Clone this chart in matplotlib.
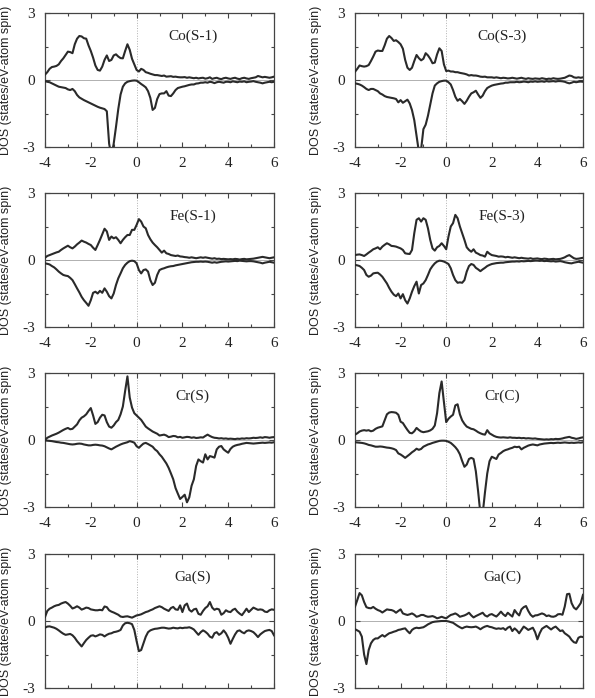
import numpy as np
import matplotlib
matplotlib.use("Agg")
import matplotlib.pyplot as plt
from matplotlib.ticker import MultipleLocator, FixedLocator

plt.rcParams["axes.unicode_minus"] = False

# energy grid (eV), 0.1 eV step from -4 to 6
energy = np.round(np.linspace(-4, 6, 101), 1)

# spin-up / spin-down DOS, one value per grid point
co_s1_up = [0.24, 0.35, 0.5, 0.58, 0.6, 0.63, 0.7, 0.85, 0.97, 1.12,
            1.27, 1.25, 1.2, 1.6, 1.85, 1.97, 1.95, 1.87, 1.85, 1.55,
            1.3, 1.0, 0.65, 0.45, 0.42, 0.6, 0.9, 1.1, 0.85, 0.9,
            1.1, 1.15, 1.05, 0.98, 0.97, 1.3, 1.6, 1.35, 0.95, 0.7,
            0.45, 0.38, 0.5, 0.45, 0.35, 0.32, 0.28, 0.25, 0.22, 0.22,
            0.2, 0.18, 0.2, 0.15, 0.16, 0.17, 0.14, 0.15, 0.13, 0.12,
            0.12, 0.13, 0.1, 0.12, 0.1, 0.08, 0.1, 0.07, 0.09, 0.1,
            0.06, 0.08, 0.12, 0.05, 0.08, 0.1, 0.06, 0.04, 0.08, 0.1,
            0.07, 0.05, 0.08, 0.1, 0.06, 0.04, 0.08, 0.1, 0.07, 0.05,
            0.08, 0.1, 0.12, 0.18, 0.15, 0.12, 0.14, 0.12, 0.1, 0.12, 0.15]
co_s1_dn = [-0.05, -0.08, -0.1, -0.15, -0.2, -0.25, -0.3, -0.32, -0.34, -0.36,
            -0.42, -0.45, -0.4, -0.5, -0.67, -0.78, -0.84, -0.9, -0.95, -1.0,
            -1.05, -1.1, -1.15, -1.2, -1.24, -1.27, -1.3, -1.4, -2.85, -3.4,
            -2.85, -2.1, -1.3, -0.65, -0.3, -0.15, -0.08, -0.05, -0.03, -0.02,
            -0.03, -0.1, -0.18, -0.25, -0.33, -0.5, -0.8, -1.34, -1.25, -0.85,
            -0.63, -0.6, -0.6, -0.5, -0.7, -0.72, -0.6, -0.45, -0.36, -0.33,
            -0.3, -0.28, -0.25, -0.22, -0.2, -0.2, -0.16, -0.15, -0.12, -0.12,
            -0.1, -0.12, -0.08, -0.1, -0.14, -0.1, -0.08, -0.1, -0.12, -0.08,
            -0.08, -0.1, -0.06, -0.08, -0.1, -0.07, -0.08, -0.06, -0.1, -0.08,
            -0.07, -0.05, -0.08, -0.1, -0.12, -0.15, -0.12, -0.1, -0.08, -0.1, -0.08]

co_s3_up = [0.37, 0.5, 0.65, 0.62, 0.6, 0.62, 0.67, 0.85, 1.05, 1.27,
            1.32, 1.3, 1.3, 1.55, 1.85, 1.97, 1.88, 1.75, 1.78, 1.7,
            1.6, 1.4, 0.9, 0.55, 0.45, 0.55, 0.85, 1.12, 0.98, 0.88,
            0.95, 1.2, 1.1, 0.95, 0.75, 0.78, 1.15, 1.42, 1.3, 0.7,
            0.4, 0.42, 0.38, 0.38, 0.35, 0.35, 0.32, 0.3, 0.28, 0.25,
            0.2, 0.22, 0.2, 0.2, 0.18, 0.15, 0.14, 0.15, 0.12, 0.12,
            0.12, 0.1, 0.12, 0.1, 0.08, 0.1, 0.09, 0.07, 0.08, 0.1,
            0.08, 0.06, 0.08, 0.1, 0.07, 0.05, 0.08, 0.06, 0.05, 0.07,
            0.06, 0.05, 0.08, 0.06, 0.04, 0.06, 0.05, 0.08, 0.06, 0.05,
            0.06, 0.08, 0.1, 0.15, 0.2, 0.18, 0.12, 0.1, 0.12, 0.1, 0.12]
co_s3_dn = [-0.15, -0.17, -0.2, -0.25, -0.32, -0.4, -0.45, -0.4, -0.4, -0.45,
            -0.5, -0.6, -0.65, -0.72, -0.76, -0.78, -0.8, -0.82, -0.85, -1.0,
            -0.9, -1.02, -0.95, -0.88, -1.05, -1.35, -1.8, -2.5, -3.2, -3.1,
            -2.2, -2.0, -1.6, -1.1, -0.6, -0.25, -0.15, -0.08, -0.05, -0.03,
            -0.03, -0.1, -0.2, -0.45, -0.75, -0.93, -0.85, -0.95, -1.07, -0.93,
            -0.75, -0.6, -0.55, -0.48, -0.65, -0.8, -0.7, -0.5, -0.36, -0.3,
            -0.25, -0.22, -0.2, -0.18, -0.16, -0.15, -0.12, -0.12, -0.1, -0.1,
            -0.1, -0.08, -0.1, -0.09, -0.07, -0.08, -0.1, -0.07, -0.08, -0.06,
            -0.08, -0.07, -0.06, -0.08, -0.05, -0.07, -0.06, -0.05, -0.07, -0.05,
            -0.05, -0.06, -0.08, -0.12, -0.15, -0.12, -0.08, -0.1, -0.08, -0.07, -0.08]

fe_s1_up = [0.1, 0.18, 0.22, 0.26, 0.3, 0.34, 0.37, 0.45, 0.52, 0.58,
            0.64, 0.57, 0.52, 0.6, 0.7, 0.78, 0.87, 0.82, 0.78, 0.72,
            0.67, 0.55, 0.45, 0.67, 0.9, 1.15, 1.4, 1.28, 0.9, 1.05,
            0.97, 1.02, 0.9, 0.75, 0.9, 1.02, 1.12, 1.12, 1.35, 1.35,
            1.57, 1.83, 1.72, 1.5, 1.42, 1.12, 0.93, 0.78, 0.67, 0.57,
            0.45, 0.33, 0.42, 0.3, 0.27, 0.22, 0.2, 0.18, 0.2, 0.16,
            0.15, 0.13, 0.12, 0.1, 0.12, 0.1, 0.08, 0.1, 0.12, 0.1,
            0.12, 0.1, 0.08, 0.06, 0.08, 0.05, 0.06, 0.04, 0.05, 0.04,
            0.03, 0.04, 0.03, 0.05, 0.04, 0.02, 0.04, 0.05, 0.03, 0.04,
            0.05, 0.06, 0.08, 0.1, 0.12, 0.14, 0.12, 0.1, 0.08, 0.1, 0.12]
fe_s1_dn = [-0.15, -0.17, -0.2, -0.27, -0.33, -0.42, -0.52, -0.6, -0.67, -0.7,
            -0.72, -0.8, -0.9, -1.08, -1.27, -1.45, -1.65, -1.8, -1.92, -2.05,
            -1.8, -1.47, -1.42, -1.5, -1.38, -1.47, -1.27, -1.42, -1.62, -1.72,
            -1.5, -1.12, -0.82, -0.6, -0.37, -0.22, -0.12, -0.05, -0.03, -0.05,
            -0.15, -0.45, -0.6, -0.45, -0.42, -0.52, -0.9, -1.12, -1.02, -0.67,
            -0.45, -0.4, -0.37, -0.33, -0.3, -0.28, -0.27, -0.24, -0.22, -0.2,
            -0.18, -0.16, -0.14, -0.12, -0.1, -0.09, -0.08, -0.08, -0.07, -0.08,
            -0.07, -0.08, -0.1, -0.12, -0.1, -0.12, -0.1, -0.08, -0.07, -0.06,
            -0.07, -0.06, -0.05, -0.04, -0.05, -0.03, -0.04, -0.05, -0.06, -0.05,
            -0.05, -0.06, -0.08, -0.1, -0.12, -0.15, -0.12, -0.1, -0.08, -0.1, -0.12]

fe_s3_up = [0.22, 0.24, 0.25, 0.22, 0.18, 0.25, 0.33, 0.4, 0.48, 0.52,
            0.57, 0.48, 0.6, 0.68, 0.75, 0.7, 0.63, 0.62, 0.6, 0.56,
            0.52, 0.45, 0.3, 0.28, 0.27, 0.45, 1.2, 1.8, 1.87, 1.72,
            1.87, 1.8, 1.42, 0.9, 0.52, 0.42, 0.57, 0.63, 0.75, 0.63,
            0.48, 1.05, 1.5, 1.65, 2.02, 1.87, 1.5, 1.2, 0.9, 0.57,
            0.45, 0.37, 0.48, 0.33, 0.28, 0.22, 0.2, 0.15, 0.37, 0.28,
            0.22, 0.2, 0.18, 0.15, 0.16, 0.15, 0.12, 0.14, 0.12, 0.1,
            0.12, 0.1, 0.08, 0.1, 0.08, 0.07, 0.06, 0.08, 0.05, 0.06,
            0.07, 0.05, 0.04, 0.06, 0.05, 0.03, 0.04, 0.05, 0.03, 0.04,
            0.05, 0.08, 0.12, 0.18, 0.22, 0.15, 0.08, 0.05, 0.06, 0.08, 0.1]
fe_s3_dn = [-0.22, -0.24, -0.27, -0.35, -0.45, -0.67, -0.75, -0.7, -0.6, -0.58,
            -0.57, -0.65, -0.75, -0.9, -1.05, -1.25, -1.42, -1.55, -1.62, -1.5,
            -1.72, -1.53, -1.8, -1.95, -1.72, -1.42, -1.17, -0.97, -1.5, -1.12,
            -1.05, -0.9, -0.67, -0.42, -0.27, -0.15, -0.07, -0.03, -0.04, -0.07,
            -0.12, -0.18, -0.37, -0.67, -0.9, -1.02, -1.0, -1.02, -0.9, -0.52,
            -0.27, -0.18, -0.22, -0.35, -0.42, -0.5, -0.42, -0.35, -0.27, -0.22,
            -0.18, -0.16, -0.14, -0.13, -0.12, -0.12, -0.1, -0.09, -0.08, -0.07,
            -0.07, -0.06, -0.07, -0.05, -0.06, -0.05, -0.04, -0.05, -0.04, -0.03,
            -0.03, -0.04, -0.03, -0.05, -0.04, -0.05, -0.06, -0.05, -0.07, -0.06,
            -0.05, -0.07, -0.1, -0.12, -0.14, -0.15, -0.12, -0.1, -0.08, -0.1, -0.12]

cr_s_up = [0.0, 0.1, 0.15, 0.2, 0.24, 0.28, 0.33, 0.39, 0.45, 0.5,
           0.54, 0.48, 0.5, 0.6, 0.7, 0.88, 1.0, 1.06, 1.15, 1.3,
           1.43, 1.1, 0.72, 0.8, 1.0, 1.13, 1.1, 0.8, 0.6, 0.55,
           0.65, 0.8, 0.9, 1.15, 1.5, 2.2, 2.85, 1.9, 1.45, 1.2,
           1.1, 1.0, 0.9, 0.75, 0.6, 0.52, 0.45, 0.38, 0.33, 0.28,
           0.2, 0.22, 0.24, 0.2, 0.13, 0.15, 0.18, 0.17, 0.12, 0.14,
           0.1, 0.12, 0.14, 0.13, 0.1, 0.12, 0.09, 0.1, 0.12, 0.11,
           0.18, 0.24, 0.18, 0.13, 0.1, 0.09, 0.07, 0.08, 0.06, 0.07,
           0.05, 0.06, 0.05, 0.04, 0.06, 0.05, 0.07, 0.06, 0.08, 0.07,
           0.08, 0.1, 0.09, 0.1, 0.12, 0.1, 0.13, 0.12, 0.1, 0.12, 0.13]
cr_s_dn = [-0.02, -0.03, -0.04, -0.05, -0.07, -0.09, -0.1, -0.12, -0.13, -0.15,
           -0.17, -0.19, -0.2, -0.19, -0.17, -0.16, -0.17, -0.2, -0.22, -0.24,
           -0.24, -0.22, -0.21, -0.22, -0.24, -0.25, -0.28, -0.33, -0.38, -0.42,
           -0.36, -0.3, -0.25, -0.2, -0.16, -0.13, -0.1, -0.05, -0.08, -0.12,
           -0.28, -0.35, -0.25, -0.16, -0.13, -0.18, -0.24, -0.3, -0.42, -0.5,
           -0.64, -0.75, -0.9, -1.05, -1.25, -1.5, -1.76, -2.15, -2.4, -2.64,
           -2.55, -2.45, -2.79, -2.57, -2.05, -1.76, -1.16, -0.87, -0.95, -1.01,
           -0.64, -0.87, -0.72, -0.75, -0.79, -0.42, -0.3, -0.27, -0.42, -0.5,
           -0.57, -0.4, -0.3, -0.25, -0.22, -0.2, -0.17, -0.15, -0.13, -0.14,
           -0.15, -0.16, -0.15, -0.14, -0.13, -0.12, -0.13, -0.12, -0.11, -0.12, -0.1]

cr_c_up = [0.24, 0.3, 0.38, 0.42, 0.44, 0.42, 0.44, 0.39, 0.42, 0.5,
           0.55, 0.58, 0.61, 0.88, 1.15, 1.23, 1.25, 1.24, 1.22, 1.13,
           0.82, 0.76, 0.6, 0.45, 0.32, 0.3, 0.39, 0.54, 0.45, 0.38,
           0.35, 0.37, 0.39, 0.43, 0.5, 0.65, 1.2, 2.1, 2.62, 1.7,
           0.8, 0.95, 1.05, 1.13, 1.55, 1.6, 1.15, 0.88, 0.72, 0.6,
           0.55, 0.5, 0.48, 0.42, 0.35, 0.3, 0.26, 0.24, 0.44, 0.3,
           0.24, 0.18, 0.14, 0.12, 0.11, 0.12, 0.11, 0.1, 0.12, 0.1,
           0.1, 0.09, 0.1, 0.08, 0.09, 0.07, 0.08, 0.07, 0.06, 0.07,
           0.05, 0.04, 0.03, 0.02, 0.03, 0.02, 0.04, 0.03, 0.05, 0.04,
           0.05, 0.07, 0.1, 0.12, 0.14, 0.1, 0.08, 0.05, 0.07, 0.1, 0.12]
cr_c_dn = [-0.1, -0.11, -0.12, -0.13, -0.15, -0.18, -0.22, -0.24, -0.27, -0.3,
           -0.3, -0.29, -0.3, -0.32, -0.34, -0.35, -0.37, -0.4, -0.45, -0.6,
           -0.65, -0.72, -0.8, -0.72, -0.64, -0.55, -0.48, -0.39, -0.44, -0.4,
           -0.3, -0.25, -0.2, -0.17, -0.13, -0.1, -0.07, -0.04, -0.03, -0.03,
           -0.04, -0.08, -0.13, -0.22, -0.32, -0.45, -0.64, -0.94, -1.2, -1.1,
           -0.85, -0.8, -0.85, -1.4, -2.3, -3.3, -3.3, -2.35, -1.5, -0.95,
           -0.75, -0.8, -0.85, -0.65, -0.58, -0.5, -0.45, -0.42, -0.38, -0.35,
           -0.3, -0.32, -0.3, -0.42, -0.35, -0.3, -0.25, -0.22, -0.2, -0.22,
           -0.24, -0.2, -0.18, -0.16, -0.15, -0.14, -0.13, -0.14, -0.13, -0.12,
           -0.13, -0.12, -0.11, -0.12, -0.13, -0.12, -0.13, -0.12, -0.11, -0.12, -0.1]

ga_s_up = [0.18, 0.45, 0.55, 0.6, 0.66, 0.7, 0.72, 0.78, 0.82, 0.85,
           0.78, 0.68, 0.56, 0.6, 0.66, 0.6, 0.51, 0.55, 0.6, 0.58,
           0.52, 0.5, 0.48, 0.48, 0.5, 0.48, 0.65, 0.62, 0.48, 0.42,
           0.38, 0.33, 0.28, 0.2, 0.18, 0.2, 0.21, 0.18, 0.15, 0.2,
           0.25, 0.27, 0.3, 0.35, 0.4, 0.43, 0.48, 0.52, 0.58, 0.62,
           0.66, 0.62, 0.55, 0.5, 0.45, 0.58, 0.63, 0.52, 0.5, 0.7,
           0.4, 0.7, 0.78, 0.5, 0.42, 0.52, 0.55, 0.32, 0.28, 0.45,
           0.58, 0.66, 0.85, 0.6, 0.5, 0.55, 0.52, 0.28, 0.35, 0.48,
           0.42, 0.4, 0.5, 0.55, 0.42, 0.33, 0.26, 0.4, 0.55, 0.4,
           0.5, 0.6, 0.55, 0.5, 0.52, 0.5, 0.42, 0.4, 0.48, 0.52, 0.5]
ga_s_dn = [-0.3, -0.25, -0.24, -0.27, -0.3, -0.35, -0.42, -0.5, -0.57, -0.62,
           -0.6, -0.58, -0.64, -0.75, -0.9, -1.02, -1.14, -0.99, -0.85, -0.75,
           -0.66, -0.64, -0.69, -0.65, -0.6, -0.62, -0.69, -0.62, -0.57, -0.55,
           -0.5, -0.48, -0.45, -0.4, -0.2, -0.1, -0.08, -0.1, -0.14, -0.4,
           -0.9, -1.35, -1.3, -1.0, -0.7, -0.5, -0.42, -0.38, -0.35, -0.34,
           -0.32, -0.3, -0.3, -0.32, -0.34, -0.33, -0.3, -0.32, -0.33, -0.3,
           -0.32, -0.3, -0.3, -0.28, -0.32, -0.38, -0.5, -0.62, -0.5, -0.42,
           -0.48, -0.57, -0.7, -0.75, -0.55, -0.5, -0.62, -0.55, -0.42, -0.55,
           -0.75, -1.02, -0.8, -0.6, -0.45, -0.42, -0.5, -0.55, -0.45, -0.42,
           -0.45, -0.5, -0.6, -0.72, -0.6, -0.52, -0.45, -0.42, -0.4, -0.45, -0.64]

ga_c_up = [0.64, 0.94, 1.25, 1.15, 0.85, 0.62, 0.58, 0.57, 0.63, 0.55,
           0.49, 0.45, 0.38, 0.45, 0.52, 0.5, 0.49, 0.45, 0.37, 0.45,
           0.52, 0.34, 0.3, 0.27, 0.3, 0.34, 0.28, 0.19, 0.22, 0.27,
           0.27, 0.22, 0.19, 0.2, 0.22, 0.18, 0.12, 0.15, 0.19, 0.15,
           0.12, 0.2, 0.27, 0.3, 0.34, 0.28, 0.19, 0.22, 0.25, 0.3,
           0.37, 0.25, 0.16, 0.22, 0.27, 0.32, 0.37, 0.25, 0.2, 0.28,
           0.31, 0.25, 0.2, 0.3, 0.42, 0.3, 0.22, 0.37, 0.28, 0.2,
           0.49, 0.35, 0.25, 0.52, 0.62, 0.67, 0.45, 0.28, 0.19, 0.25,
           0.26, 0.3, 0.34, 0.3, 0.22, 0.25, 0.2, 0.19, 0.22, 0.3,
           0.31, 0.28, 0.65, 1.2, 1.22, 0.8, 0.6, 0.52, 0.65, 0.8, 1.17]
ga_c_dn = [-0.37, -0.42, -0.48, -0.7, -1.5, -1.93, -1.3, -1.0, -0.85, -0.78,
           -0.78, -0.7, -0.63, -0.7, -0.62, -0.55, -0.52, -0.48, -0.45, -0.4,
           -0.38, -0.35, -0.33, -0.45, -0.55, -0.4, -0.33, -0.3, -0.32, -0.3,
           -0.28, -0.22, -0.15, -0.1, -0.05, -0.03, -0.02, -0.01, 0.0, 0.0,
           0.0, -0.02, -0.05, -0.08, -0.15, -0.22, -0.28, -0.33, -0.28, -0.25,
           -0.27, -0.28, -0.27, -0.25, -0.3, -0.37, -0.3, -0.25, -0.22, -0.26,
           -0.28, -0.32, -0.35, -0.33, -0.35, -0.32, -0.4, -0.3, -0.25, -0.45,
           -0.33, -0.42, -0.55, -0.4, -0.25, -0.32, -0.4, -0.35, -0.3, -0.5,
           -0.82, -0.55, -0.35, -0.28, -0.22, -0.3, -0.38, -0.3, -0.25, -0.35,
           -0.45, -0.42, -0.55, -0.62, -0.7, -0.85, -0.95, -0.98, -0.75, -0.7, -0.72]

labels = ["Co(S-1)", "Co(S-3)", "Fe(S-1)", "Fe(S-3)",
          "Cr(S)", "Cr(C)", "Ga(S)", "Ga(C)"]
ups = [co_s1_up, co_s3_up, fe_s1_up, fe_s3_up, cr_s_up, cr_c_up, ga_s_up, ga_c_up]
downs = [co_s1_dn, co_s3_dn, fe_s1_dn, fe_s3_dn, cr_s_dn, cr_c_dn, ga_s_dn, ga_c_dn]

W, H = 595, 698
fig = plt.figure(figsize=(W / 100, H / 100), dpi=100)
fig.patch.set_facecolor("white")

serif = ["Liberation Serif", "DejaVu Serif"]
col_left = [45, 355]      # pixel x of left spine
col_width = [229, 228]
row_top = [13, 193, 373, 554]
row_height = 134

for i, name in enumerate(labels):
    r, c = divmod(i, 2)
    x0 = col_left[c] / W
    y0 = 1 - (row_top[r] + row_height) / H
    ax = fig.add_axes([x0, y0, col_width[c] / W, row_height / H])

    ax.axhline(0, color="#b0b0b0", lw=0.7, zorder=1)
    ax.axvline(0, color="#b0b0b0", lw=0.7, ls=":", zorder=1)
    ax.plot(energy, ups[i], color="#2a2a2a", lw=1.5, zorder=3)
    ax.plot(energy, downs[i], color="#2a2a2a", lw=1.5, zorder=3)

    ax.set_xlim(-4, 6)
    ax.set_ylim(-3, 3)
    ax.xaxis.set_major_locator(MultipleLocator(2))
    ax.xaxis.set_minor_locator(MultipleLocator(1))
    ax.yaxis.set_major_locator(FixedLocator([-3, 0, 3]))
    ax.yaxis.set_minor_locator(FixedLocator([-1.5, 1.5]))
    ax.tick_params(which="both", direction="in", top=True, right=True,
                   color="#444444", width=0.8, labelsize=11, pad=7,
                   labelcolor="#222222")
    ax.tick_params(which="major", length=3.5)
    ax.tick_params(which="minor", length=2.5)
    for lab in ax.get_xticklabels() + ax.get_yticklabels():
        lab.set_family(serif)
    for sp in ax.spines.values():
        sp.set_color("#444444")
        sp.set_linewidth(0.9)

    ax.text(2.45, 1.95, name, ha="center", va="center", fontsize=11,
            family=serif, color="#222222")

    # y label, centred on the panel, ~40 px left of the frame
    fig.text((col_left[c] - 39) / W, 1 - (row_top[r] + row_height / 2) / H,
             "DOS (states/eV-atom spin)", rotation=90, ha="center", va="center",
             fontsize=9, family=["Liberation Sans", "DejaVu Sans"],
             color="#222222")

fig.savefig("out.png", dpi=100)
